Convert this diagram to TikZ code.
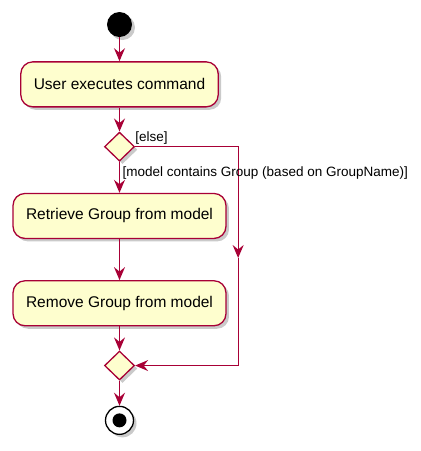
\documentclass[tikz,border=0pt]{standalone}
\usepackage{fontspec}
\setmainfont{Liberation Sans}
\usepackage{tikz}
\usetikzlibrary{arrows.meta,positioning,calc,shapes.geometric,shadows}
\definecolor{umlred}{HTML}{A80036}
\definecolor{umlfill}{HTML}{FEFECE}

\begin{document}
\begin{tikzpicture}[
  shade/.style={drop shadow={shadow xshift=3pt,shadow yshift=-3pt,opacity=0.35,fill=black!60}},
  action/.style={draw=umlred,fill=umlfill,line width=1.3pt,rounded corners=12pt,minimum height=45pt,inner xsep=13pt,font=\fontsize{15.5}{18}\selectfont,shade},
  decision/.style={draw=umlred,fill=umlfill,line width=1.3pt,diamond,inner sep=0pt,minimum width=30pt,minimum height=29pt,shade},
  flow/.style={draw=umlred,line width=1.3pt,-{Stealth[length=13pt,width=11pt,inset=4.5pt]}},
  guard/.style={font=\fontsize{13.5}{16}\selectfont,inner sep=1pt}
]
\useasboundingbox (0,0) rectangle (421pt,-451pt);

\node[circle,fill=black,minimum size=25pt,inner sep=0pt,shade] (start) at (119.5pt,-24.5pt) {};
\node[action] (exec) [below=24pt of start] {User executes command};
\node[decision] (d1) [below=24pt of exec] {};
\node[action] (fetch) [below=31pt of d1] {Retrieve Group from model};
\node[action] (remove) [below=41pt of fetch] {Remove Group from model};
\node[decision] (d2) [below=24pt of remove] {};
\node[circle,draw=black,fill=white,line width=1.3pt,minimum size=28pt,inner sep=0pt,shade] (stop) [below=25pt of d2] {};
\node[circle,fill=black,minimum size=14pt,inner sep=0pt] at (stop) {};

% main flow
\draw[flow] (start) -- (exec);
\draw[flow] (exec) -- (d1);
\draw[flow] (d1) -- (fetch);
\draw[flow] (fetch) -- (remove);
\draw[flow] (remove) -- (d2);
\draw[flow] (d2) -- (stop);

% else branch
\coordinate (elsetop) at ($(d1.east)+(103pt,0)$);
\coordinate (elsemid) at (elsetop |- 0,-258pt);
\coordinate (elsebot) at (elsetop |- d2.east);
\draw[flow] (d1.east) -- (elsetop) -- (elsemid);
\draw[flow] (elsemid) -- (elsebot) -- (d2.east);

\node[guard,anchor=south west] at ($(d1.east)+(-1pt,1pt)$) {[else]};
\node[guard,anchor=west] at ($(d1.south)+(2pt,-11pt)$) {[model contains Group (based on GroupName)]};
\end{tikzpicture}
\end{document}
